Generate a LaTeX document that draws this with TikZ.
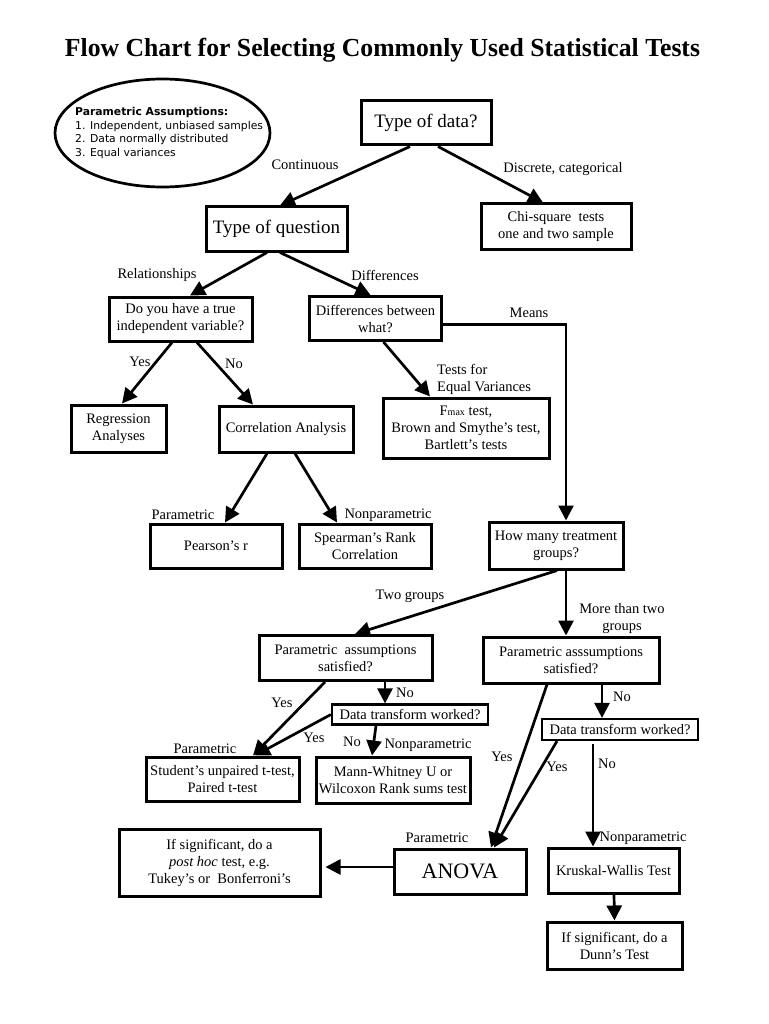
\documentclass[tikz,border=0pt]{standalone}
\usepackage{graphicx}
\usepackage{fontspec}
\setmainfont{Liberation Serif}
\newfontfamily\dejavu{DejaVu Sans}
\usetikzlibrary{arrows.meta,shapes.geometric,calc}
\newcommand\normtext{\fontsize{14.5}{17}\selectfont}
\newcommand\bigtext{\fontsize{19}{22}\selectfont}
\newcommand\anovatext{\fontsize{22}{26}\selectfont}
\tikzset{
  bx/.style 2 args={draw, line width=3pt, align=center, inner sep=0pt,
    font=\normtext, minimum width=#1pt, minimum height=#2pt},
  lbl/.style={inner sep=0pt, align=center, font=\normtext},
  arr/.style={line width=2.7pt, -{Triangle[length=15pt,width=15pt]}},
}
\begin{document}
\begin{tikzpicture}[x=1pt,y=-1pt]
\useasboundingbox (0,0) rectangle (768,1024);
\fill[white] (0,0) rectangle (768,1024);

\node[inner sep=0pt] (title) at (382.5,50)
  {\resizebox{635pt}{\height}{\fontsize{26}{30}\selectfont\bfseries Flow Chart for Selecting Commonly Used Statistical Tests}};

\node[draw, ellipse, line width=2.7pt, minimum width=215pt, minimum height=108pt, inner sep=0pt] (assump) at (162.5,133) {};
\node[anchor=west, align=left, inner sep=0pt, font=\dejavu\fontsize{10.8}{13.5}\selectfont] (assumptext) at (75,133)
  {\textbf{Parametric Assumptions:}\\1. Independent, unbiased samples\\2. Data normally distributed\\3. Equal variances};

% boxes
\node[bx={130}{44}, font=\bigtext] (data) at (426,123) {Type of data?};
\node[bx={141}{44}, font=\bigtext] (question) at (276.5,229) {Type of question};
\node[bx={150}{45}] (chi) at (556,226.5) {Chi-square\ \ tests\\one and two sample};
\node[bx={143}{44}] (truevar) at (180.5,319) {Do you have a true\\independent variable?};
\node[bx={132}{44}] (diffs) at (375.5,318.5) {Differences between\\what?};
\node[bx={95}{47}] (regr) at (118.5,428.5) {Regression\\Analyses};
\node[bx={134}{46}] (corr) at (286,429) {Correlation Analysis};
\node[bx={166}{60}] (fmax) at (466,428) {F{\fontsize{10}{10}\selectfont max} test,\\Brown and Smythe’s test,\\Bartlett’s tests};
\node[bx={132}{44}] (pearson) at (216,546) {Pearson’s r};
\node[bx={132}{44}] (spearman) at (365,546) {Spearman’s Rank\\Correlation};
\node[bx={134}{47}] (howmany) at (556,545.5) {How many treatment\\groups?};
\node[bx={173}{45}] (lparam) at (345.5,658) {Parametric\ \ assumptions\\satisfied?};
\node[bx={176}{46}] (rparam) at (571,660) {Parametric asssumptions\\satisfied?};
\node[bx={156}{20}, line width=2.2pt] (ldt) at (410,714.5) {Data transform worked?};
\node[bx={156}{21}, line width=2.2pt] (rdt) at (620,729.5) {Data transform worked?};
\node[bx={153}{44}] (student) at (222.5,779) {Student’s unpaired t-test,\\Paired t-test};
\node[bx={154}{46}] (mann) at (393,780) {Mann-Whitney U or\\Wilcoxon Rank sums test};
\node[bx={201}{67}] (posthoc) at (219.5,862.5) {If significant, do a\\\textit{post hoc} test, e.g.\\Tukey’s or\ \ Bonferroni’s};
\node[bx={132}{45}, font=\anovatext] (anova) at (460,871.5) {ANOVA};
\node[bx={131}{45}] (kruskal) at (613.5,870.5) {Kruskal-Wallis Test};
\node[bx={135}{47}] (dunn) at (614.5,945.5) {If significant, do a\\Dunn’s Test};

% labels
\node[lbl] (lcont) at (305,165) {Continuous};
\node[lbl] (ldisc) at (563,169) {Discrete, categorical};
\node[lbl] (lrel) at (157,275) {Relationships};
\node[lbl] (ldiff) at (385,275) {Differences};
\node[lbl] (lmeans) at (529,313) {Means};
\node[lbl] (lyes1) at (140,362) {Yes};
\node[lbl] (lno1) at (234,364) {No};
\node[lbl, anchor=west, align=left] (ltests) at (437,379) {Tests for\\Equal Variances};
\node[lbl] (lpar1) at (183,515) {Parametric};
\node[lbl] (lnon1) at (388,515) {Nonparametric};
\node[lbl] (ltwo) at (410,596) {Two groups};
\node[lbl] (lmore) at (622,619) {More than two\\groups};
\node[lbl] (lyes2) at (282,703) {Yes};
\node[lbl] (lno2) at (405,693) {No};
\node[lbl] (lyes3) at (314,738) {Yes};
\node[lbl] (lno3) at (352,742) {No};
\node[lbl] (lnon2) at (428,745) {Nonparametric};
\node[lbl] (lpar2) at (205,749) {Parametric};
\node[lbl] (lyes4) at (502,757) {Yes};
\node[lbl] (lno4) at (622,697) {No};
\node[lbl] (lyes5) at (557,767) {Yes};
\node[lbl] (lno5) at (607,764) {No};
\node[lbl] (lpar3) at (437,838) {Parametric};
\node[lbl] (lnon3) at (643,838) {Nonparametric};

% arrows
\draw[arr] ([xshift=-16pt]data.south) -- ([xshift=3.5pt]question.north);
\draw[arr] ([xshift=12pt]data.south) -- ([xshift=-13pt]chi.north);
\draw[arr] ([xshift=-9.5pt]question.south) -- ([xshift=9.5pt]truevar.north);
\draw[arr] ([xshift=3.5pt]question.south) -- ([xshift=-5pt]diffs.north);
\draw[arr] ([xshift=-8.5pt]truevar.south) -- ([xshift=3.5pt]regr.north);
\draw[arr] ([xshift=16.5pt]truevar.south) -- ([xshift=-33pt]corr.north);
\draw[arr] ([xshift=-19pt]corr.south) -- ([xshift=9pt]pearson.north);
\draw[arr] ([xshift=9pt]corr.south) -- ([xshift=-28pt]spearman.north);
\draw[arr] ([xshift=8pt]diffs.south) -- ([xshift=-36pt]fmax.north);
\draw[arr, line width=2.3pt] ([yshift=-6pt]diffs.east) -| ([xshift=10pt]howmany.north);
\draw[arr] ([xshift=1pt]howmany.south) -- ([xshift=9.5pt]lparam.north);
\draw[arr] ([xshift=10pt]howmany.south) -- ([xshift=-5pt]rparam.north);
\draw[arr] ([xshift=-20.5pt]lparam.south) -- ([xshift=30.5pt]student.north);
\draw[arr] ([xshift=39.5pt]lparam.south) -- ([xshift=-25pt]ldt.north);
\draw[arr] (ldt.west) -- ([xshift=32.5pt]student.north);
\draw[arr] ([xshift=-34pt]ldt.south) -- ([xshift=-21pt]mann.north);
\draw[arr] ([xshift=-24pt]rparam.south) -- ([xshift=31pt]anova.north);
\draw[arr] ([xshift=31pt]rparam.south) -- ([xshift=-18pt]rdt.north);
\draw[arr] ([xshift=-63pt]rdt.south) -- ([xshift=34pt]anova.north);
\draw[arr] ([xshift=-27pt,yshift=-3pt]rdt.south) -- ([xshift=-20.5pt]kruskal.north);
\draw[arr] ([yshift=4.5pt]anova.west) -- ([xshift=4pt,yshift=-4.5pt]posthoc.east);
\draw[arr] ([xshift=0.5pt]kruskal.south) -- (dunn.north);
\end{tikzpicture}
\end{document}
